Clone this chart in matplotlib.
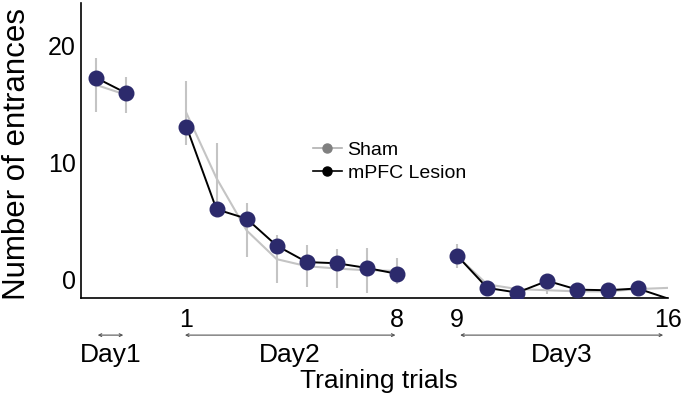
import numpy as np
import matplotlib.pyplot as plt
from matplotlib.lines import Line2D

plt.rcParams['font.family'] = ['Liberation Sans', 'DejaVu Sans']

# trial positions on the x axis (day blocks kept apart)
day1_x = [-2, -1]
day2_x = [1, 2, 3, 4, 5, 6, 7, 8]
day3_x = [10, 11, 12, 13, 14, 15, 16, 17]

# mPFC lesion means
lesion_d1 = [17.2, 15.9]
lesion_d2 = [13.05, 6.0, 5.2, 2.9, 1.5, 1.4, 1.0, 0.5]
lesion_d3 = [2.05, -0.7, -1.1, -0.1, -0.85, -0.9, -0.75, -1.6]

# sham means and error
sham_d1 = [16.6, 15.75]
sham_d2 = [14.2, 8.65, 4.2, 1.75, 1.15, 0.95, 0.8, 0.75]
sham_d3 = [2.0, -0.4, -0.8, -0.9, -1.0, -1.0, -0.8, -0.7]
sham_err_d1 = [2.3, 1.55]
sham_err_d2 = [2.7, 3.0, 2.3, 2.05, 1.8, 1.7, 1.9, 1.1]
sham_err_d3 = [1.0, 0.3, 0.3, 0.3, 0.3, 0.3, 0.3, 0.0]

tick_pos = [1, 8, 10, 17]
tick_labels = ['1', '8', '9', '16']

navy = '#2c2a6c'
light = '#c4c4c4'

fig = plt.figure(figsize=(6.82, 3.99), dpi=100)
ax = fig.add_axes([0.119, 0.252, 0.86, 0.741])

days = [(day1_x, lesion_d1, sham_d1, sham_err_d1),
        (day2_x, lesion_d2, sham_d2, sham_err_d2),
        (day3_x, lesion_d3, sham_d3, sham_err_d3)]

for i, (xs, les, sh, err) in enumerate(days):
    ax.errorbar(xs, sh, yerr=err, color=light, lw=1.5, elinewidth=1.5,
                capsize=0, zorder=1)
    ax.plot(xs, les, color='black', lw=1.4, zorder=2)
    n = len(xs) - 1 if i == 2 else len(xs)   # last point sits off the corner
    ax.plot(xs[:n], les[:n], 'o', color=navy, ms=10.5, mec=navy, zorder=3)

ax.set_xlim(-2.5, 17)
ax.set_ylim(-1.6, 23.6)
ax.set_yticks([0, 10, 20])
ax.set_xticks(tick_pos)
ax.set_xticklabels(tick_labels)
ax.tick_params(axis='both', length=0, labelsize=18)
ax.tick_params(axis='x', pad=7)
ax.tick_params(axis='y', pad=4)
ax.spines['top'].set_visible(False)
ax.spines['right'].set_visible(False)
ax.spines['left'].set_linewidth(1.2)
ax.spines['bottom'].set_linewidth(1.2)

ax.set_ylabel('Number of entrances', fontsize=22.5)
ax.yaxis.set_label_coords(-0.084, 0.49)

# day brackets under the axis
tr = ax.get_xaxis_transform()
for x0, x1, name in [(-1.95, -1.1, 'Day1'), (0.95, 7.95, 'Day2'), (10.1, 16.85, 'Day3')]:
    ax.annotate('', xy=(x0, -0.124), xytext=(x1, -0.124), xycoords=tr, textcoords=tr,
                arrowprops=dict(arrowstyle='<->', color='#555555', lw=0.8,
                                shrinkA=0, shrinkB=0, mutation_scale=5),
                annotation_clip=False)
    ax.text((x0 + x1) / 2, -0.19, name, transform=tr, ha='center', va='center',
            fontsize=19)
ax.text(7.4, -0.278, 'Training trials', transform=tr, ha='center', va='center',
        fontsize=19)

handles = [Line2D([], [], color='#b0b0b0', lw=1.2, marker='o', ms=6.5,
                  mfc='#808080', mec='#808080'),
           Line2D([], [], color='black', lw=1.2, marker='o', ms=6.5,
                  mfc='black', mec='black')]
ax.legend(handles, ['Sham', 'mPFC Lesion'], loc='upper left',
          bbox_to_anchor=(0.378, 0.565), frameon=False, fontsize=14,
          handlelength=1.5, handletextpad=0.3, labelspacing=0.3, borderpad=0)

fig.savefig('out.png', dpi=100)
